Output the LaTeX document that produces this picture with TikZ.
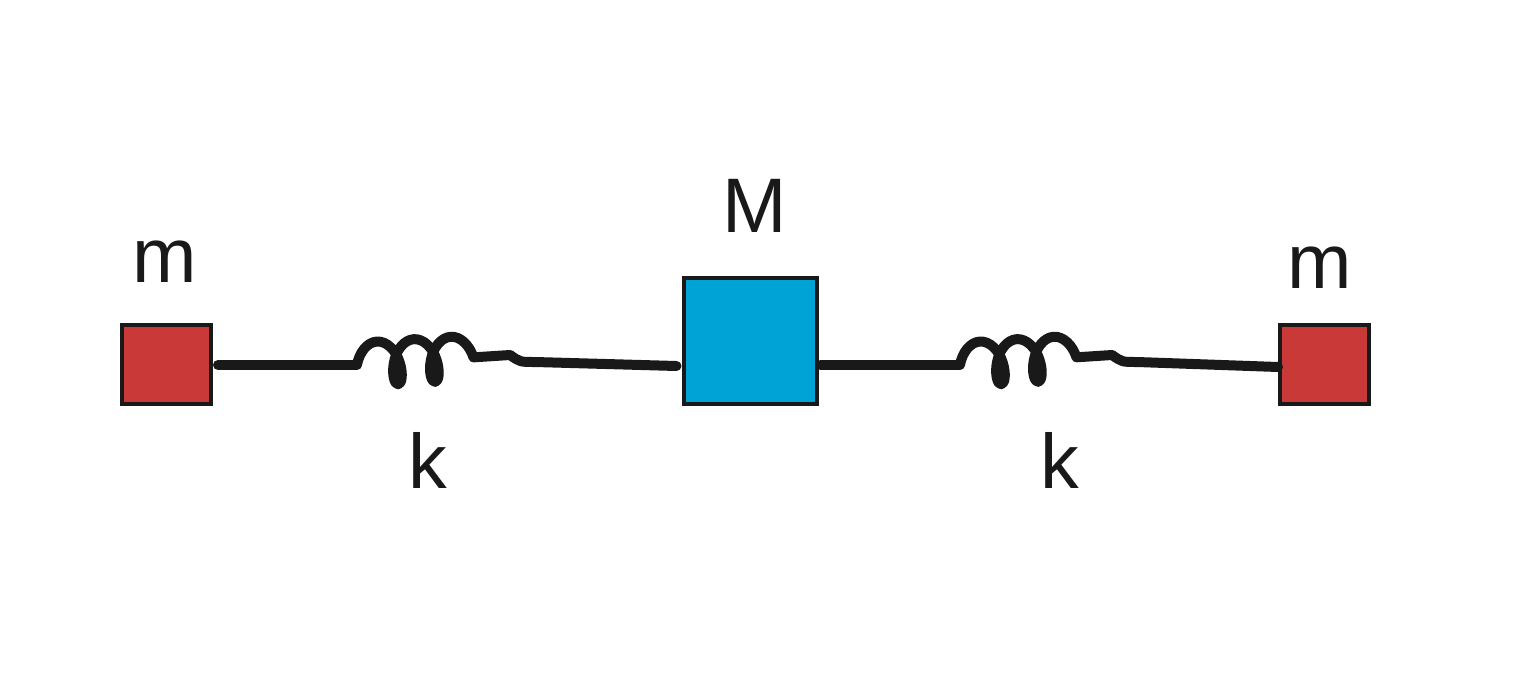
\documentclass[tikz,border=0pt]{standalone}
\usepackage{fontspec}
\setmainfont{Liberation Sans}
\usetikzlibrary{decorations.pathmorphing}
\begin{document}
\begin{tikzpicture}[x=0.05cm,y=-0.05cm,
  mass/.style={draw=black!90,line width=0.2cm,minimum width=4.45cm,minimum height=3.95cm,inner sep=0,outer sep=0},
  wire/.style={line width=0.5cm,draw=black!90,line cap=round,line join=round},
  springc/.style={wire,decorate,decoration={coil,amplitude=1.1cm,segment length=1.85cm,aspect=0.55,pre length=0.1cm,post length=0.1cm}},
  lab/.style={font=\fontsize{110}{110}\selectfont,text=black!90}]
\useasboundingbox (0,0) rectangle (1538,676);
\node[mass,fill={rgb,255:red,200;green,57;blue,55}] (m1) at (166.5,364.5) {};
\node[mass,fill={rgb,255:red,0;green,163;blue,214},minimum width=6.65cm,minimum height=6.3cm] (M) at (750,341) {};
\node[mass,fill={rgb,255:red,200;green,57;blue,55}] (m2) at (1324.5,364.5) {};
\coordinate (a1) at (355,365); \coordinate (b1) at (510,355);
\coordinate (a2) at (958,365); \coordinate (b2) at (1112,355);
\draw[wire] ([xshift=0.35cm]m1.east |- a1) -- (a1);
\draw[springc] (a1) -- (b1);
\draw[wire] (b1) .. controls (520,362) .. (535,362) -- ([xshift=-0.35cm]M.west |- 0,366);
\draw[wire] ([xshift=0.2cm]M.east |- a2) -- (a2);
\draw[springc] (a2) -- (b2);
\draw[wire] (b2) .. controls (1122,362) .. (1137,362) -- ([xshift=-0.1cm]m2.west |- 0,367);
\node[lab] (t1) at (165,262) {m};
\node[lab] (t2) at (755,206) {M};
\node[lab] (t3) at (1320,268) {m};
\node[lab] (t4) at (428,460) {k};
\node[lab] (t5) at (1060,460) {k};
\end{tikzpicture}
\end{document}
